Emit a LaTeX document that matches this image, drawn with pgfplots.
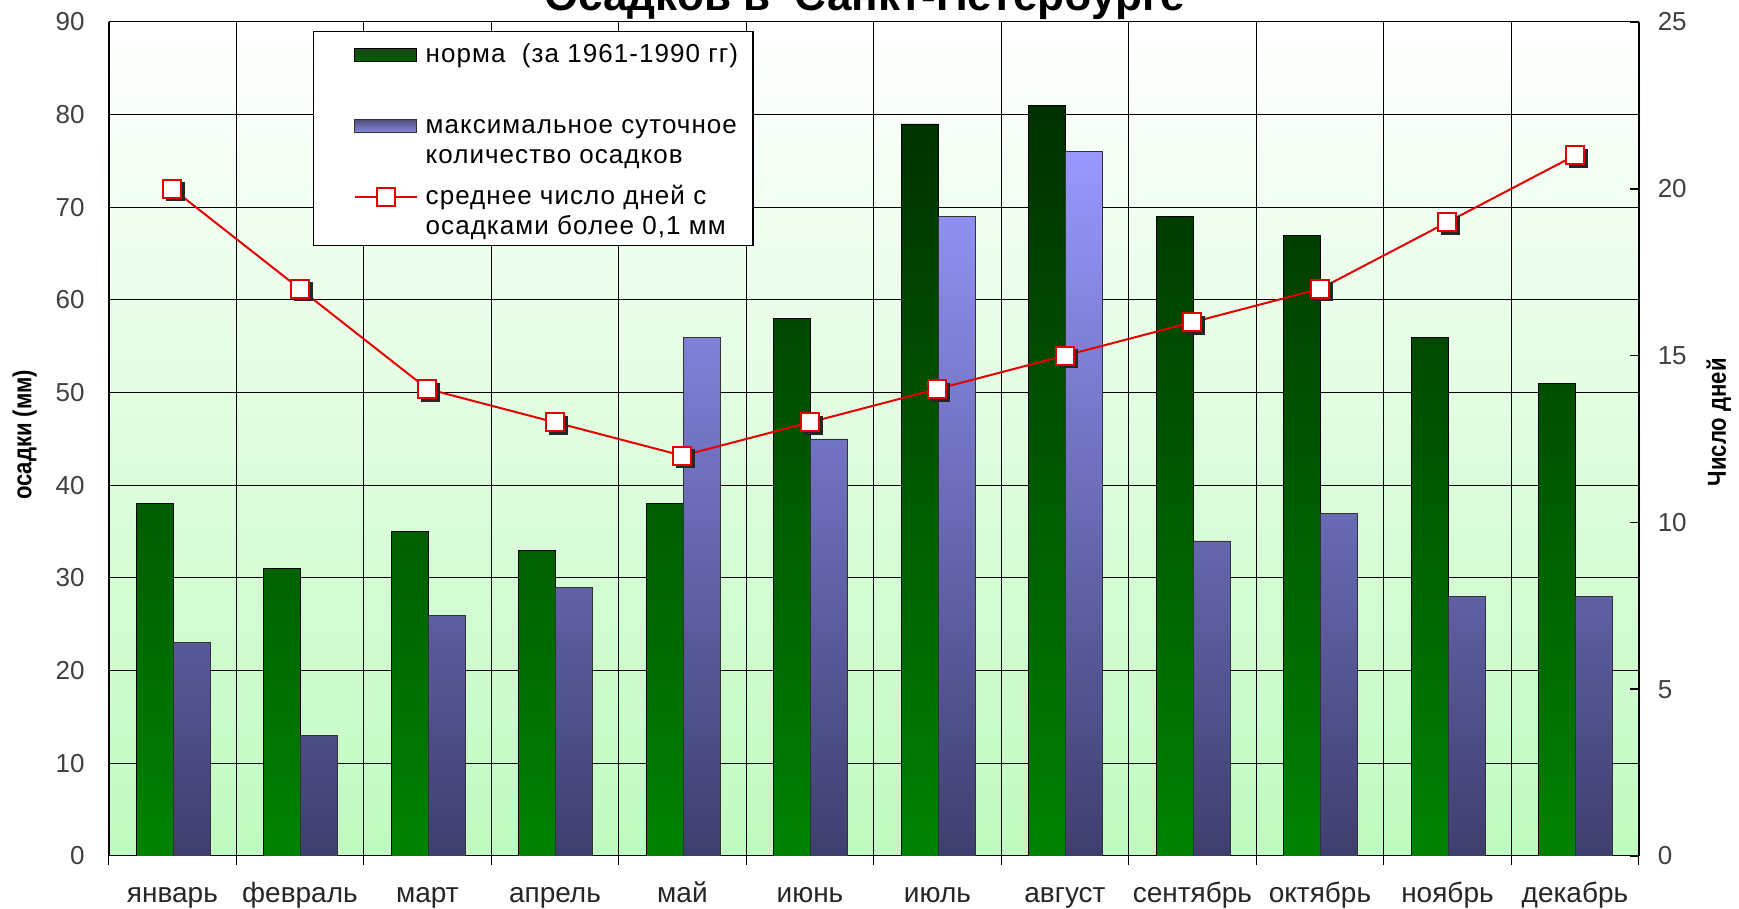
\documentclass[border=0pt]{standalone}
\usepackage{pgfplots}
\usepackage{pgfplotstable}
\usepackage{graphicx}
\pgfplotsset{compat=1.18}
\usepackage{fontspec}
\setmainfont{Liberation Sans}
\definecolor{grtop}{RGB}{0,48,0}
\definecolor{grbot}{RGB}{0,130,0}
\definecolor{bltop}{RGB}{152,152,255}
\definecolor{blbot}{RGB}{62,62,110}
\definecolor{bgbot}{RGB}{192,250,192}
\definecolor{bgmid}{RGB}{238,253,238}
\definecolor{lred}{RGB}{228,0,0}

\pgfplotsset{
  barlegend/.style={legend image code/.code={\path (-16.5pt,1pt); \draw[##1] (0pt,0.5pt) rectangle (31pt,7pt);}},
  linelegend/.style={legend image code/.code={\path (-16.5pt,3.7pt); \draw[mark repeat=2,mark phase=2,##1] plot coordinates {(0pt,3.7pt)(15.5pt,3.7pt)(31pt,3.7pt)};}},
}

\pgfplotstableread{
x norm maxd days
0 38 23 20
1 31 13 17
2 35 26 14
3 33 29 13
4 38 56 12
5 58 45 13
6 79 69 14
7 81 76 15
8 69 34 16
9 67 37 17
10 56 28 19
11 51 28 21
}\datatable

\begin{document}
\begin{tikzpicture}
\begin{axis}[
  at={(0,0)}, anchor=south west,
  scale only axis, width=765pt, height=417pt,
  xmin=-0.5, xmax=11.5, ymin=0, ymax=90,
  axis x line*=bottom, axis y line*=left,
  axis line style={-, black, line width=0.5pt},
  y axis line style={line width=1.1pt},
  axis background/.style={shade, top color=white, middle color=bgmid, bottom color=bgbot},
  xtick={-0.5,0.5,...,11.5},
  xticklabels={январь,февраль,март,апрель,май,июнь,июль,август,сентябрь,октябрь,ноябрь,декабрь,{}},
  xticklabel style={anchor=base, xshift=31.875pt, yshift=-18.6pt, font=\fontsize{14}{17}\selectfont, text=black!85},
  tick align=outside, major tick length=4.5pt,
  xtick style={black, line width=0.5pt},
  ytick={0,10,...,90},
  ytick style={draw=none},
  yticklabel style={xshift=-4pt, font=\fontsize{13}{15}\selectfont, text=black!75},
  /pgf/number format/assume math mode=true,
  grid=major,
  major grid style={black, line width=0.5pt},
  ylabel={\scalebox{0.85}[1]{осадки (мм)}},
  ylabel style={at={(axis description cs:-0.0549,0.505)}, anchor=center, font=\bfseries\fontsize{13}{15}\selectfont},
  title={Осадков в\ \ Санкт-Петербурге},
  title style={at={(axis description cs:0.494,1)}, anchor=base, yshift=-0.3pt, font=\bfseries\fontsize{22}{26}\selectfont},
]
\addplot[ybar, bar width=0.29, bar shift=-0.14, draw=black, line width=0.4pt, top color=grtop, bottom color=grbot] table[x=x,y=norm]{\datatable};
\addplot[ybar, bar width=0.29, bar shift=0.15, draw=black!80, line width=0.4pt, top color=bltop, bottom color=blbot] table[x=x,y=maxd]{\datatable};
\end{axis}
\begin{axis}[
  at={(0,0)}, anchor=south west,
  scale only axis, width=765pt, height=417pt,
  xmin=-0.5, xmax=11.5, ymin=0, ymax=25,
  axis x line=none, axis y line*=right,
  axis line style={-, black, line width=1.1pt},
  ytick={0,5,...,25},
  tick align=inside, major tick length=4.5pt,
  ytick style={black, line width=0.8pt},
  yticklabel style={xshift=6pt, font=\fontsize{13}{15}\selectfont, text=black!75},
  /pgf/number format/assume math mode=true,
  ylabel={\scalebox{0.85}[1]{Число дней}},
  ylabel style={at={(axis description cs:1.0523,0.52)}, anchor=center, font=\bfseries\fontsize{13}{15}\selectfont},
  clip=false,
  legend style={at={(axis description cs:0.1336,0.989)}, anchor=north west, draw=black, line width=0.6pt, fill=white,
    font=\fontsize{13}{15}\selectfont\addfontfeatures{LetterSpace=4}, inner xsep=3.5pt, inner ysep=2.5pt, row sep=4.5pt,
    cells={anchor=base west}, nodes={inner xsep=4pt, inner ysep=0pt, text height=13pt, text depth=18pt}},
]
\addlegendimage{barlegend, draw=black, line width=0.5pt, top color=grtop!90, bottom color=grbot!75!black}
\addlegendentry{\vtop{\hbox{\strut норма\ \ (за 1961-1990 гг)}\hbox{\strut}}}
\addlegendimage{barlegend, draw=black!80, line width=0.5pt, top color=blbot!90, bottom color=bltop!90!black}
\addlegendentry{\vtop{\hbox{\strut максимальное суточное}\hbox{\strut количество осадков}}}
\addplot[forget plot, only marks, mark=square*, mark size=4.5pt,
  mark options={fill=black!85, draw=black!85, xshift=1.5pt, yshift=-1.5pt}] table[x=x,y=days]{\datatable};
\addplot[lred, line width=1pt, mark=square*, mark size=4.5pt,
  mark options={fill=white, draw=lred, line width=1pt}, linelegend]
  table[x=x,y=days]{\datatable};
\addlegendentry{\vtop{\hbox{\strut среднее число дней с}\hbox{\strut осадками более 0,1 мм}}}
\end{axis}
\pgfresetboundingbox
\useasboundingbox (-54.35pt,-26.5pt) rectangle (815.15pt,428pt);
\end{tikzpicture}
\end{document}
